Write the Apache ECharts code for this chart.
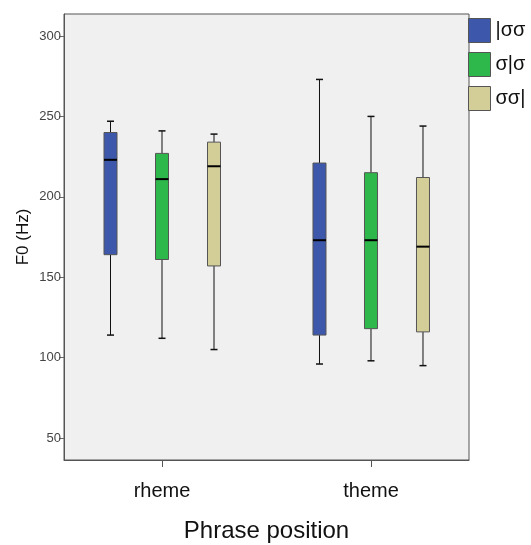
<!DOCTYPE html>
<html>
<head>
<meta charset="utf-8">
<title>F0 by phrase position</title>
<script src="https://cdn.jsdelivr.net/npm/echarts@6/dist/echarts.min.js"></script>
<style>
    html, body { margin: 0; padding: 0; background: #fff; }
    #main { width: 531px; height: 545px; }
</style>
</head>
<body>
<div id="main"></div>
<script>
// categories on the x axis
var positions = ['rheme', 'theme'];
// legend names (syllable boundary)
var groups = ['|σσ', 'σ|σ', 'σσ|'];
var colors = ['#3d58ab', '#2eb84b', '#d3ce98'];
var yTicks = [50, 100, 150, 200, 250, 300];

// [min, Q1, median, Q3, max] per position
var boxFirst  = [[114, 164, 223, 240, 247], [96, 114, 173, 221, 273]];
var boxSecond = [[112, 161, 211, 227, 241], [98, 118, 173, 215, 250]];
var boxThird  = [[105, 157, 219, 234, 239], [95, 116, 169, 212, 244]];

var allBoxes = [boxFirst, boxSecond, boxThird];
var offsets = [-51.5, 0, 52]; // px shift of each group inside a cluster
var boxW = 13, capW = 7;

function renderBox(gi) {
    return function (params, api) {
        var x = api.value(0);
        var p = function (v) { return api.coord([x, v]); };
        var cx = p(0)[0] + offsets[gi];
        var yMin = p(api.value(1))[1], yQ1 = p(api.value(2))[1],
            yMed = p(api.value(3))[1], yQ3 = p(api.value(4))[1],
            yMax = p(api.value(5))[1];
        var line = { stroke: '#111', lineWidth: 1 };
        return {
            type: 'group',
            children: [
                { type: 'line', shape: { x1: cx, y1: yMax, x2: cx, y2: yQ3 }, style: line },
                { type: 'line', shape: { x1: cx, y1: yQ1, x2: cx, y2: yMin }, style: line },
                { type: 'line', shape: { x1: cx - capW / 2, y1: yMax, x2: cx + capW / 2, y2: yMax }, style: { stroke: '#111', lineWidth: 1.5 } },
                { type: 'line', shape: { x1: cx - capW / 2, y1: yMin, x2: cx + capW / 2, y2: yMin }, style: { stroke: '#111', lineWidth: 1.5 } },
                { type: 'rect', shape: { x: cx - boxW / 2, y: yQ3, width: boxW, height: yQ1 - yQ3 },
                  style: { fill: colors[gi], stroke: '#555', lineWidth: 1 } },
                { type: 'line', shape: { x1: cx - boxW / 2, y1: yMed, x2: cx + boxW / 2, y2: yMed }, style: { stroke: '#000', lineWidth: 2 } }
            ]
        };
    };
}

var series = groups.map(function (name, gi) {
    return {
        name: name,
        type: 'custom',
        renderItem: renderBox(gi),
        itemStyle: { color: colors[gi], borderColor: '#555', borderWidth: 1 },
        encode: { x: 0, y: [1, 2, 3, 4, 5] },
        data: allBoxes[gi].map(function (b, i) { return [i].concat(b); }),
        silent: true
    };
});

var chart = echarts.init(document.getElementById('main'));
chart.setOption({
    animation: false,
    textStyle: { fontFamily: 'Liberation Sans, Arial, sans-serif' },
    grid: {
        left: 64, right: 62, top: 14, bottom: 85,
        containLabel: false, outerBoundsMode: 'none',
        show: true, backgroundColor: '#f0f0f0', borderColor: '#555', borderWidth: 1
    },
    legend: {
        orient: 'vertical', left: 468, top: 18, padding: 0,
        itemWidth: 22, itemHeight: 24, itemGap: 9,
        icon: 'rect',
        itemStyle: { borderColor: '#555', borderWidth: 1 },
        textStyle: { fontSize: 20, color: '#111' },
        data: groups
    },
    xAxis: {
        type: 'value',
        min: -0.469, max: 1.469,
        name: 'Phrase position',
        nameLocation: 'middle',
        nameGap: 59,
        nameMoveOverlap: false,
        nameTextStyle: { fontSize: 24, color: '#111' },
        splitLine: { show: false },
        axisLine: { show: true, onZero: false, lineStyle: { color: '#555' } },
        axisTick: { show: true, length: 7, lineStyle: { color: '#555' }, customValues: [0, 1] },
        axisLabel: {
            fontSize: 20, color: '#111', margin: 21,
            customValues: [0, 1],
            formatter: function (v) { return positions[Math.round(v)]; }
        }
    },
    yAxis: {
        type: 'value',
        min: 36.3, max: 313.7,
        name: 'F0 (Hz)',
        nameLocation: 'middle',
        nameGap: 32,
        nameMoveOverlap: false,
        nameTextStyle: { fontSize: 17, color: '#111' },
        splitLine: { show: false },
        axisLine: { show: true, onZero: false, lineStyle: { color: '#555' } },
        axisTick: { show: true, length: 5, lineStyle: { color: '#666' }, customValues: yTicks },
        axisLabel: {
            fontSize: 13, color: '#444', margin: 3,
            fontFamily: 'Liberation Sans Narrow, Liberation Sans, sans-serif',
            customValues: yTicks
        }
    },
    series: series
});
</script>
</body>
</html>
